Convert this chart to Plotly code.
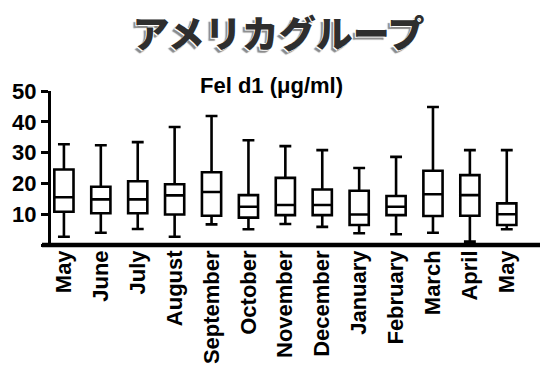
import plotly.graph_objects as go

months = ["May", "June", "July", "August", "September", "October", "November",
          "December", "January", "February", "March", "April", "May"]
upper = [32.7, 32.4, 33.4, 38.3, 41.9, 34.0, 32.1, 30.8, 25.0, 28.6, 44.8, 30.8, 30.8]
q3 = [24.5, 18.9, 20.7, 19.7, 23.6, 16.2, 21.8, 18.0, 17.6, 15.9, 24.1, 22.7, 13.5]
median = [15.5, 14.8, 14.8, 16.1, 17.2, 12.4, 13.0, 13.0, 9.9, 12.4, 16.5, 16.2, 10.0]
q1 = [10.8, 10.3, 10.3, 9.9, 9.5, 8.9, 9.7, 9.7, 6.5, 9.7, 9.4, 9.5, 6.5]
lower = [2.7, 4.0, 5.2, 2.7, 6.7, 5.1, 6.8, 5.9, 3.8, 3.5, 4.0, 1.1, 5.1]
yticks = [0, 10, 20, 30, 40, 50]
ytext = ["", "10", "20", "30", "40", "50"]

xs = list(range(len(months)))

fig = go.Figure()
fig.add_trace(go.Box(
    x=xs, q1=q1, median=median, q3=q3, lowerfence=lower, upperfence=upper,
    width=0.52, whiskerwidth=0.62, fillcolor="white",
    line=dict(color="black", width=2.6), boxpoints=False, hoverinfo="skip",
))

W, H = 557, 377
L, R, T, B = 51, 17, 91, 132

fig.update_layout(
    width=W, height=H, margin=dict(l=L, r=R, t=T, b=B),
    paper_bgcolor="white", plot_bgcolor="white", showlegend=False,
    title=dict(text="アメリカグループ", x=0.5, xref="container", xanchor="center",
               y=1 - 35 / H, yref="container", yanchor="middle",
               font=dict(family="Noto Sans CJK JP", size=37, color="#2e2e2e", weight=900,
                         shadow="-1px 1px 0 #ffffff, 1px -1px 0 #ffffff, -3px 3px 1px #8a8a8a")),
    xaxis=dict(range=[-0.35, 12.9], tickmode="array", tickvals=xs, ticktext=months,
               tickangle=-90, showgrid=False, zeroline=False, showline=False,
               ticks="", tickfont=dict(family="Liberation Sans", size=22, color="black", weight="bold")),
    yaxis=dict(range=[0, 50], tickmode="array", tickvals=yticks, ticktext=ytext,
               showgrid=False, zeroline=False, showline=True, linecolor="black", linewidth=3,
               ticks="outside", ticklen=7, tickwidth=3, tickcolor="black",
               tickfont=dict(family="Liberation Sans", size=22, color="black", weight="bold")),
)

pw = W - L - R
fig.add_shape(type="line", xref="paper", yref="paper", x0=-9 / pw, x1=1, y0=0, y1=0,
              line=dict(color="black", width=4.5))
fig.add_annotation(text="Fel d1 (μg/ml)", xref="paper", yref="paper",
                   x=(271 - L) / pw, y=1 + 5 / (H - T - B), xanchor="center", yanchor="middle",
                   showarrow=False,
                   font=dict(family="Liberation Sans", size=22, color="black", weight="bold"))

fig.write_html("out.html", config={"displayModeBar": False},
               post_script="document.body.style.margin='0';document.body.style.overflow='hidden';")
